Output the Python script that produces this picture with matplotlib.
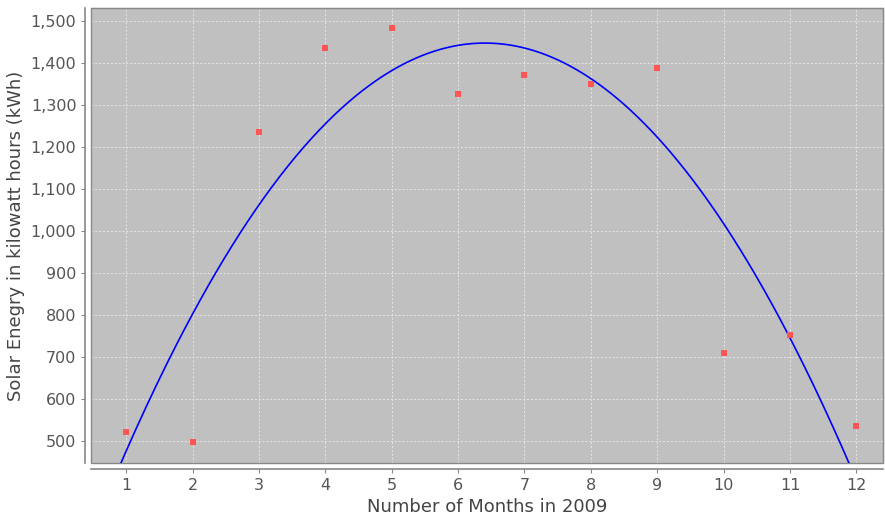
import numpy as np
import matplotlib.pyplot as plt
from matplotlib.patches import Rectangle
from matplotlib.ticker import FuncFormatter

months = [1, 2, 3, 4, 5, 6, 7, 8, 9, 10, 11, 12]
energy = [521, 498, 1235, 1436, 1484, 1326, 1371, 1350, 1388, 709, 753, 536]

# quadratic trend fitted to the measured points
coef = np.polyfit(months, energy, 2)
xs = np.linspace(0.5, 12.4, 400)
ys = np.polyval(coef, xs)

fig = plt.figure(figsize=(8.85, 5.18), dpi=100)
ax = fig.add_axes([0.1028, 0.1062, 0.8949, 0.8784])
ax.set_facecolor("#c0c0c0")

ax.grid(True, color="#e6e6e6", linestyle=(0, (2, 2)), linewidth=0.7)
ax.set_axisbelow(True)

ax.plot(xs, ys, color="#0000ff", linewidth=1.2)
ax.scatter(months, energy, marker="s", s=16, color="#ff5555", zorder=3, linewidths=0)

ax.set_xlim(0.47, 12.4)
ax.set_ylim(447, 1531)
ax.set_xticks(months)
ax.set_yticks(range(500, 1501, 100))
ax.yaxis.set_major_formatter(FuncFormatter(lambda v, p: f"{int(v):,}"))

for s in ["top", "right"]:
    ax.spines[s].set_color("#888888")
for s in ["left", "bottom"]:
    ax.spines[s].set_position(("outward", 4))
    ax.spines[s].set_color("#888888")
    ax.spines[s].set_linewidth(1.2)
ax.add_patch(Rectangle((0, 0), 1, 1, transform=ax.transAxes, fill=False,
                       edgecolor="#888888", linewidth=1, clip_on=False))

ax.tick_params(colors="#888888", labelcolor="#555555", labelsize=11.5, length=3)
ax.set_xlabel("Number of Months in 2009", fontsize=13, color="#444444")
ax.set_ylabel("Solar Enegry in kilowatt hours (kWh)", fontsize=13, color="#444444")

fig.savefig("out.png", dpi=100)
